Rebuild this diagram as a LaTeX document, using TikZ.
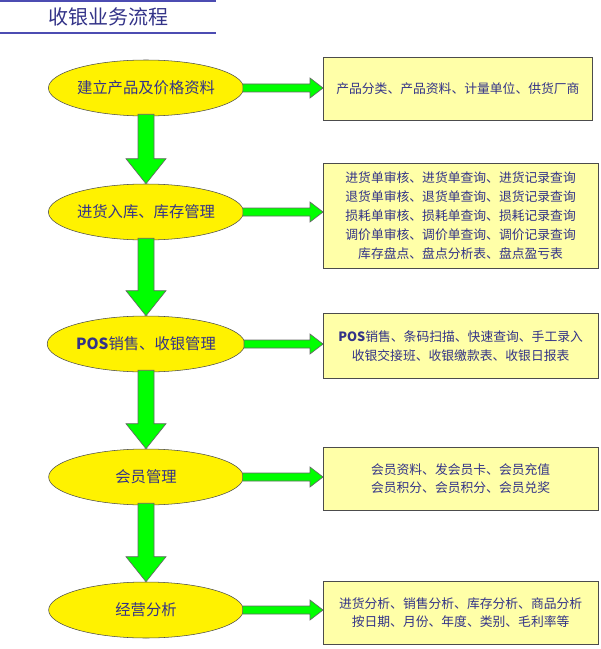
\documentclass[tikz,border=0pt]{standalone}
\usepackage{fontspec}
\setmainfont{Liberation Serif}
\newfontfamily\cjk{Noto Sans CJK SC}
\usetikzlibrary{positioning, calc, shapes.geometric}
\definecolor{navy}{HTML}{333388}
\definecolor{paleyel}{HTML}{FFFFA8}
\definecolor{arrgreen}{HTML}{00FF00}

% fat vertical and horizontal arrows between named nodes
\newcommand{\downarr}[2]{%
  \filldraw[arrow] ($(#1.south)+(-8,-2)$) -- ($(#1.south)+(8,-2)$) -- ($(#2.north)+(8,-25)$)
    -- ($(#2.north)+(20,-25)$) -- (#2.north) -- ($(#2.north)+(-20,-25)$) -- ($(#2.north)+(-8,-25)$) -- cycle;}
\newcommand{\rightarr}[2]{%
  \coordinate (tip) at (#2.west |- #1.east);
  \filldraw[arrow] ($(#1.east)+(-1,-4)$) -- ($(#1.east)+(-1,4)$) -- ($(tip)+(-13,4)$)
    -- ($(tip)+(-13,10)$) -- (tip) -- ($(tip)+(-13,-10)$) -- ($(tip)+(-13,-4)$) -- cycle;}

\begin{document}
\begin{tikzpicture}[x=0.75pt, y=-0.75pt,
    stage/.style={ellipse, draw=black!70, fill=yellow, minimum width=146pt, minimum height=42pt,
      inner sep=0pt, text=navy, font=\cjk\fontsize{11.5}{13}\selectfont},
    infobox/.style={draw=black!70, fill=paleyel, anchor=north west, align=center,
      text=navy, font=\cjk\fontsize{9.6}{14.2}\selectfont},
    arrow/.style={draw=black!60, fill=arrgreen, line width=0.5pt}]
  \useasboundingbox (0,0) rectangle (600,649);

  \draw[blue!40!gray, line width=1.2pt] (0,1) -- (216,1);
  \draw[blue!40!gray, line width=1.2pt] (0,33) -- (216,33);
  \node[text=navy, font=\cjk\fontsize{15}{17}\selectfont] (title) at (108,17) {收银业务流程};

  \node[stage] (build) at (146,88) {建立产品及价格资料};
  \node[stage] (stock) at (146,212) {进货入库、库存管理};
  \node[stage] (pos) at (146,344) {\textbf{POS}销售、收银管理};
  \node[stage] (member) at (146,477) {会员管理};
  \node[stage] (analysis) at (146,610) {经营分析};

  \node[infobox, minimum width=202pt, minimum height=47pt] (buildinfo) at (323,57)
    {产品分类、产品资料、计量单位、供货厂商};
  \node[infobox, minimum width=206pt, minimum height=79pt] (stockinfo) at (323,163)
    {进货单审核、进货单查询、进货记录查询\\退货单审核、退货单查询、退货记录查询\\
     损耗单审核、损耗单查询、损耗记录查询\\调价单审核、调价单查询、调价记录查询\\
     库存盘点、盘点分析表、盘点盈亏表};
  \node[infobox, minimum width=206pt, minimum height=49pt] (posinfo) at (323,313)
    {\textbf{POS}销售、条码扫描、快速查询、手工录入\\收银交接班、收银缴款表、收银日报表};
  \node[infobox, minimum width=206pt, minimum height=47pt] (memberinfo) at (323,447)
    {会员资料、发会员卡、会员充值\\会员积分、会员积分、会员兑奖};
  \node[infobox, minimum width=206pt, minimum height=47pt] (analysisinfo) at (323,581)
    {进货分析、销售分析、库存分析、商品分析\\按日期、月份、年度、类别、毛利率等};

  \downarr{build}{stock}
  \downarr{stock}{pos}
  \downarr{pos}{member}
  \downarr{member}{analysis}

  \rightarr{build}{buildinfo}
  \rightarr{stock}{stockinfo}
  \rightarr{pos}{posinfo}
  \rightarr{member}{memberinfo}
  \rightarr{analysis}{analysisinfo}
\end{tikzpicture}
\end{document}
